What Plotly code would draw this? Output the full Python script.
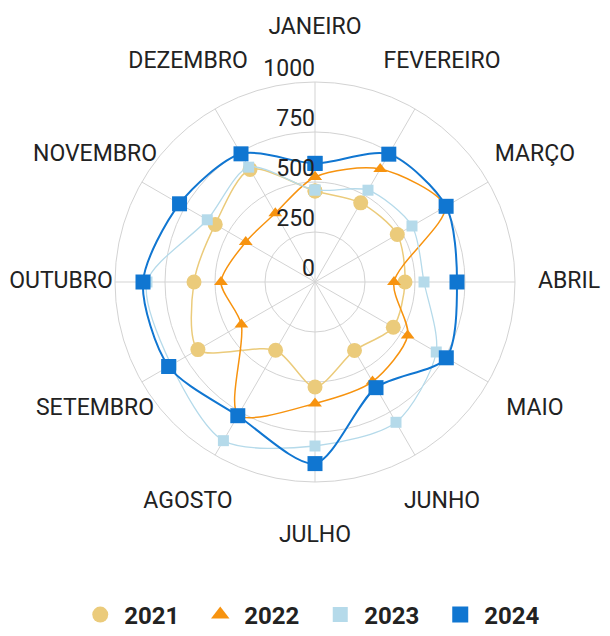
import plotly.graph_objects as go

months = ["JANEIRO", "FEVEREIRO", "MARÇO", "ABRIL", "MAIO", "JUNHO",
          "JULHO", "AGOSTO", "SETEMBRO", "OUTUBRO", "NOVEMBRO", "DEZEMBRO"]
v2021 = [455, 457, 475, 450, 452, 395, 525, 394, 676, 605, 576, 650]
v2022 = [525, 652, 750, 395, 535, 575, 607, 768, 425, 470, 400, 397]
v2023 = [460, 530, 560, 545, 700, 810, 820, 916, 830, 840, 622, 663]
v2024 = [593, 738, 757, 710, 758, 610, 908, 772, 845, 860, 782, 740]
radial_ticks = [0, 250, 500, 750, 1000]

series = [
    ("2021", v2021, "#EBCB7B", "circle", 15, 1.5, 20),
    ("2022", v2022, "#F7930F", "triangle-up", 12, 1.5, 17),
    ("2023", v2023, "#B5DAEA", "square", 11, 1.3, 15),
    ("2024", v2024, "#1076D1", "square", 15, 2, 17),
]

W, H = 610, 636
CX, CY = 315, 282          # chart centre (px)
R_PLOT, R_LABEL = 200, 254  # plot radius and month-label radius (px)


def dom(r):
    return dict(x=[(CX - r) / W, (CX + r) / W],
                y=[1 - (CY + r) / H, 1 - (CY - r) / H])


fig = go.Figure()
for name, vals, color, symbol, size, lw, lsize in series:
    fig.add_trace(go.Scatterpolar(
        r=vals + vals[:1],
        theta=months + months[:1],
        name=name,
        mode="lines+markers",
        showlegend=False,
        line=dict(color=color, width=lw, shape="spline", smoothing=0.8),
        marker=dict(color=color, symbol=symbol, size=size),
    ))
# legend entries: marker only
for name, vals, color, symbol, size, lw, lsize in series:
    fig.add_trace(go.Scatterpolar(
        r=[None], theta=[months[0]], name=name, mode="markers",
        marker=dict(color=color, symbol=symbol, size=lsize),
    ))

# radial tick labels, above-left of each gridline on the JANEIRO spoke
fig.add_trace(go.Scatterpolar(
    r=radial_ticks, theta=[months[0]] * len(radial_ticks),
    text=[str(t) for t in radial_ticks],
    mode="text", textposition="top left", cliponaxis=False,
    textfont=dict(family="Roboto", size=23, color="#222222"),
    showlegend=False, hoverinfo="skip",
))
# month labels, centred on a ring around the chart (invisible helper polar)
fig.add_trace(go.Scatterpolar(
    r=[1] * len(months), theta=months, text=months, subplot="polar2",
    mode="text", textposition="middle center", cliponaxis=False,
    textfont=dict(family="Roboto", size=23, color="#222222"),
    showlegend=False, hoverinfo="skip",
))

fig.update_layout(
    width=W, height=H,
    paper_bgcolor="white",
    font=dict(family="Roboto", size=23, color="#222222"),
    margin=dict(l=0, r=0, t=0, b=0, autoexpand=False),
    polar=dict(
        bgcolor="white",
        domain=dom(R_PLOT),
        angularaxis=dict(
            direction="clockwise", rotation=90,
            gridcolor="#D3D3D3", linecolor="#D3D3D3",
            ticks="", showticklabels=False,
        ),
        radialaxis=dict(
            range=[0, 1000], tickvals=radial_ticks,
            angle=90, showticklabels=False,
            gridcolor="#D3D3D3", showline=False, ticks="",
        ),
    ),
    polar2=dict(
        bgcolor="rgba(0,0,0,0)",
        domain=dom(R_LABEL),
        angularaxis=dict(direction="clockwise", rotation=90, visible=False,
                         categoryarray=months, categoryorder="array"),
        radialaxis=dict(range=[0, 1], visible=False),
    ),
    legend=dict(
        orientation="h", xref="container", yref="container",
        x=0.125, xanchor="left", y=0.033, yanchor="middle",
        font=dict(size=24, color="#222222", weight="bold"),
        entrywidth=67, entrywidthmode="pixels", itemwidth=38,
    ),
)

fig.write_html("out.html", config={"displayModeBar": False},
               post_script="document.body.style.margin='0';")
